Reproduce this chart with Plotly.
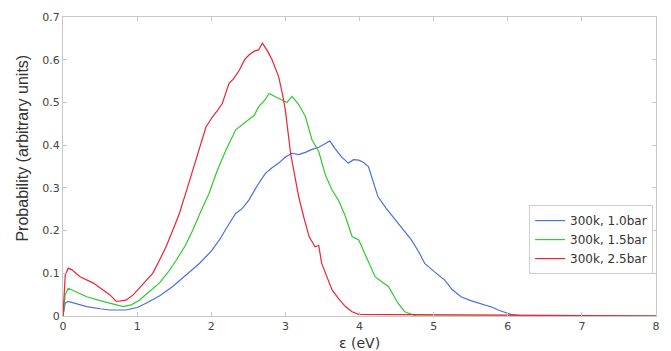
import plotly.graph_objects as go

# Series
x_blue = [0.0, 0.03, 0.07, 0.2, 0.32, 0.5, 0.63, 0.85, 1.0, 1.12, 1.3, 1.48, 1.65, 1.84, 2.0, 2.11, 2.22, 2.33, 2.42, 2.51, 2.62, 2.73, 2.82, 2.91, 3.0, 3.09, 3.18, 3.27, 3.36, 3.45, 3.54, 3.6, 3.67, 3.76, 3.85, 3.92, 3.99, 4.05, 4.12, 4.18, 4.25, 4.36, 4.48, 4.6, 4.7, 4.8, 4.88, 5.0, 5.15, 5.25, 5.37, 5.5, 5.69, 5.8, 5.87, 5.95, 6.04, 6.2, 8.0]
y_blue = [0.0, 0.03, 0.034, 0.027, 0.022, 0.017, 0.014, 0.014, 0.02, 0.03, 0.047, 0.069, 0.094, 0.123, 0.152, 0.178, 0.21, 0.24, 0.252, 0.272, 0.305, 0.334, 0.347, 0.358, 0.372, 0.381, 0.378, 0.383, 0.39, 0.395, 0.404, 0.41, 0.392, 0.372, 0.358, 0.366, 0.365, 0.36, 0.35, 0.318, 0.279, 0.252, 0.225, 0.2, 0.178, 0.15, 0.123, 0.105, 0.084, 0.062, 0.045, 0.036, 0.026, 0.02, 0.014, 0.01, 0.004, 0.0, 0.0]

x_green = [0.0, 0.03, 0.07, 0.2, 0.32, 0.5, 0.63, 0.81, 0.92, 1.03, 1.15, 1.3, 1.42, 1.53, 1.65, 1.75, 1.86, 1.97, 2.08, 2.2, 2.33, 2.42, 2.51, 2.58, 2.64, 2.72, 2.78, 2.86, 2.96, 3.02, 3.09, 3.18, 3.27, 3.36, 3.45, 3.54, 3.63, 3.72, 3.81, 3.9, 3.99, 4.1, 4.21, 4.3, 4.39, 4.52, 4.61, 4.77, 8.0]
y_green = [0.0, 0.05, 0.065, 0.055, 0.045, 0.036, 0.03, 0.022, 0.026, 0.037, 0.055, 0.077, 0.103, 0.131, 0.165, 0.201, 0.245, 0.287, 0.34, 0.389, 0.436, 0.448, 0.459, 0.47, 0.49, 0.505, 0.521, 0.514, 0.506, 0.5, 0.514, 0.495, 0.467, 0.412, 0.385, 0.33, 0.295, 0.27, 0.233, 0.186, 0.178, 0.135, 0.092, 0.08, 0.069, 0.03, 0.01, 0.0, 0.0]

x_red = [0.0, 0.03, 0.07, 0.12, 0.23, 0.32, 0.41, 0.54, 0.63, 0.72, 0.85, 0.95, 1.03, 1.12, 1.21, 1.3, 1.39, 1.48, 1.57, 1.66, 1.75, 1.84, 1.93, 2.02, 2.08, 2.15, 2.24, 2.3, 2.38, 2.45, 2.51, 2.58, 2.64, 2.69, 2.76, 2.82, 2.91, 2.96, 3.0, 3.07, 3.18, 3.25, 3.32, 3.4, 3.45, 3.49, 3.56, 3.63, 3.72, 3.81, 3.9, 3.99, 8.0]
y_red = [0.0, 0.095, 0.112, 0.108, 0.092, 0.085, 0.077, 0.061, 0.05, 0.034, 0.037, 0.05, 0.065, 0.082, 0.1, 0.13, 0.162, 0.2, 0.24, 0.29, 0.342, 0.395, 0.443, 0.467, 0.48, 0.498, 0.545, 0.555, 0.576, 0.6, 0.611, 0.62, 0.623, 0.639, 0.62, 0.6, 0.56, 0.52, 0.482, 0.381, 0.279, 0.23, 0.186, 0.162, 0.165, 0.123, 0.09, 0.061, 0.04, 0.022, 0.01, 0.004, 0.0]

series_names = ["300k, 1.0bar", "300k, 1.5bar", "300k, 2.5bar"]
x_ticks = [0, 1, 2, 3, 4, 5, 6, 7, 8]
y_ticks = [0, 0.1, 0.2, 0.3, 0.4, 0.5, 0.6, 0.7]
y_tick_text = ["0", "0.1", "0.2", "0.3", "0.4", "0.5", "0.6", "0.7"]

colors = ["#4a6ee0", "#2ecc2e", "#ee2233"]

fig = go.Figure()
for xs, ys, name, c in zip([x_blue, x_green, x_red], [y_blue, y_green, y_red], series_names, colors):
    fig.add_trace(go.Scatter(x=xs, y=ys, mode="lines", name=name,
                             line=dict(color=c, width=1.2)))

axis_common = dict(showgrid=False, zeroline=False, showline=True, linecolor="#c8c8c8",
                   linewidth=1, mirror="ticks", ticks="inside", ticklen=4,
                   tickcolor="#c8c8c8", tickfont=dict(family="DejaVu Sans", size=11, color="#444"))

fig.update_layout(
    width=671, height=351,
    margin=dict(l=63, r=11, t=17, b=35),
    paper_bgcolor="white", plot_bgcolor="white",
    showlegend=True,
    legend=dict(x=0.786, y=0.371, xanchor="left", yanchor="top",
                bordercolor="#cfcfcf", borderwidth=1, bgcolor="white",
                font=dict(family="DejaVu Sans", size=12, color="#333"),
                itemwidth=30, tracegroupgap=0),
    xaxis=dict(range=[0, 8], tickvals=x_ticks, **axis_common),
    yaxis=dict(range=[0, 0.7], tickvals=y_ticks, ticktext=y_tick_text, **axis_common),
    annotations=[
        dict(text="ε (eV)", xref="paper", yref="paper", x=0.5, y=0, yshift=-27,
             showarrow=False, font=dict(family="DejaVu Sans", size=14, color="#333"),
             xanchor="center", yanchor="middle"),
        dict(text="Probability (arbitrary units)", xref="paper", yref="paper", x=0, xshift=-40,
             y=0.56, textangle=-90, showarrow=False,
             font=dict(family="Liberation Sans, Arial", size=16, color="#333"),
             xanchor="center", yanchor="middle"),
    ],
)

fig.write_html("out.html")
